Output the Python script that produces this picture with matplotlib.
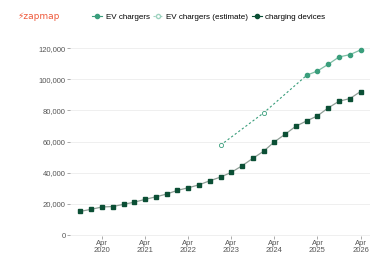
import pandas as pd
import matplotlib
matplotlib.use('Agg')
import matplotlib.pyplot as plt
from matplotlib.ticker import FuncFormatter

plt.rcParams['font.family'] = ['Liberation Sans', 'DejaVu Sans']

# charging devices, quarterly from Oct 2019 to Apr 2026
device_dates = pd.date_range('2019-10-01', '2026-04-01', freq='QS-JAN')
device_vals = [15200, 16500, 18000, 18300, 19700, 21100, 22900, 24500, 26300,
               28700, 30300, 32200, 34800, 37200, 40200, 44400, 49200, 53800,
               59800, 64700, 69900, 73300, 76500, 81600, 85900, 87600, 92100]

# EV chargers (estimate), yearly
est_dates = pd.to_datetime(['2023-01-01', '2024-01-01', '2025-01-01'])
est_vals = [57700, 78400, 102600]

# EV chargers, quarterly
ch_dates = pd.date_range('2025-01-01', '2026-04-01', freq='QS-JAN')
ch_vals = [102600, 105300, 109600, 114300, 115800, 118800]

tick_years = [2020, 2021, 2022, 2023, 2024, 2025, 2026]

teal = '#3a9e7c'
dark = '#0b4f35'

fig = plt.figure(figsize=(3.76, 2.56), dpi=100)
ax = fig.add_axes([0.186, 0.078, 0.798, 0.763])

ax.plot(est_dates, est_vals, color=teal, ls=(0, (2, 2)), lw=0.8, marker='o',
        ms=3, mfc='white', mec=teal, mew=0.6, zorder=2)
ax.plot(ch_dates, ch_vals, color='#7fbfa6', lw=0.9, marker='o', ms=3,
        mfc=teal, mec=teal, zorder=3)
ax.plot(device_dates, device_vals, color='#8f9e96', lw=0.9, marker='s', ms=2.6,
        mfc=dark, mec=dark, zorder=3)

ax.set_ylim(-640, 124740)
ax.set_xlim(pd.Timestamp('2019-07-05'), pd.Timestamp('2026-06-20'))
ax.set_yticks(range(0, 120001, 20000))
ax.yaxis.set_major_formatter(FuncFormatter(lambda v, p: f'{int(v):,}'))
ax.set_xticks([pd.Timestamp(f'{y}-04-01') for y in tick_years])
ax.set_xticklabels([f'Apr\n{y}' for y in tick_years], linespacing=0.95)

ax.grid(axis='y', color='#ececec', lw=0.6)
ax.set_axisbelow(True)
for s in ax.spines.values():
    s.set_visible(False)
ax.tick_params(axis='both', labelsize=5.5, colors='#888888', length=2,
               width=0.5, labelcolor='#555555', pad=1)

# legend
h1, = ax.plot([], [], color=teal, marker='o', ms=3, lw=0.8)
h2, = ax.plot([], [], color='#9fd3c0', marker='o', ms=3, mfc='white',
              lw=0.8, ls=(0, (2, 1)))
h3, = ax.plot([], [], color=dark, marker='o', ms=3, lw=0.8)
fig.legend([h1, h2, h3], ['EV chargers', 'EV chargers (estimate)', 'charging devices'],
           loc='center', bbox_to_anchor=(0.555, 0.933), ncol=3, frameon=False,
           fontsize=5.8, handlelength=1.3, handletextpad=0.4, columnspacing=0.4)

fig.text(0.045, 0.935, '\u26a1zapmap', color='#ef5a3c', fontsize=6.5,
         va='center', family=['DejaVu Sans'])

fig.savefig('out.png', dpi=100, facecolor='white')
